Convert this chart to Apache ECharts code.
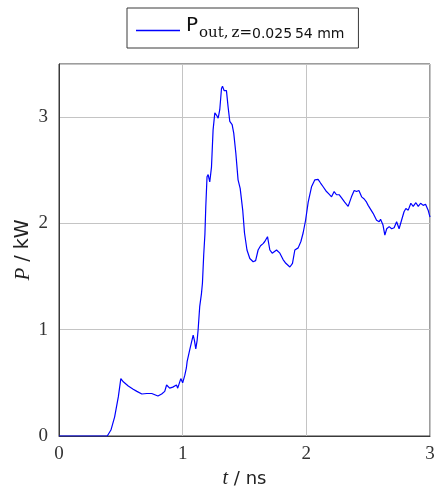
<!DOCTYPE html>
<html>
<head>
<meta charset="utf-8">
<script src="https://cdn.jsdelivr.net/npm/echarts@6/dist/echarts.min.js"></script>
<style>
  html, body { margin: 0; padding: 0; background: #fff; }
  #chart { width: 438px; height: 487px; }
</style>
</head>
<body>
<div id="chart"></div>
<script>
// Output power at z = 0.02554 mm versus time
const timeNs = [
  0.0, 0.2, 0.39, 0.42, 0.45, 0.48, 0.50, 0.52, 0.56, 0.60, 0.63, 0.64, 0.67, 0.71, 0.75,
  0.80, 0.83, 0.855, 0.87, 0.895, 0.92, 0.95, 0.96, 0.985, 1.0, 1.017, 1.03, 1.036,
  1.057, 1.085, 1.095, 1.106, 1.117, 1.125, 1.138, 1.152, 1.16, 1.17, 1.18, 1.187,
  1.197, 1.206, 1.219, 1.233, 1.246, 1.26, 1.273, 1.287, 1.30, 1.314, 1.322, 1.335,
  1.354, 1.367, 1.381, 1.40, 1.413, 1.43, 1.448, 1.465, 1.486, 1.50, 1.52, 1.543,
  1.57, 1.59, 1.61, 1.63, 1.65, 1.664, 1.686, 1.705, 1.724, 1.74, 1.759, 1.786,
  1.812, 1.834, 1.848, 1.867, 1.888, 1.907, 1.934, 1.956, 1.974, 1.994, 2.015,
  2.042, 2.069, 2.095, 2.115, 2.136, 2.163, 2.18, 2.204, 2.225, 2.244, 2.265,
  2.285, 2.31, 2.338, 2.365, 2.387, 2.406, 2.425, 2.447, 2.468, 2.487, 2.50,
  2.514, 2.54, 2.568, 2.589, 2.60, 2.62, 2.635, 2.65, 2.67, 2.69, 2.71, 2.73,
  2.75, 2.77, 2.79, 2.805, 2.824, 2.845, 2.864, 2.886, 2.905, 2.924, 2.945,
  2.964, 2.985, 3.0
];
const powerKW = [
  0.0, 0.0, 0.0, 0.056, 0.18, 0.37, 0.54, 0.51, 0.47, 0.44, 0.42, 0.43, 0.395, 0.40, 0.40,
  0.376, 0.395, 0.42, 0.48, 0.45, 0.46, 0.48, 0.45, 0.54, 0.50, 0.57, 0.64, 0.70,
  0.81, 0.95, 0.90, 0.82, 0.90, 1.0, 1.22, 1.34, 1.44, 1.70, 1.90, 2.16,
  2.44, 2.46, 2.39, 2.53, 2.88, 3.04, 3.02, 2.99, 3.07, 3.27, 3.29, 3.25,
  3.25, 3.10, 2.96, 2.93, 2.85, 2.66, 2.41, 2.33, 2.12, 1.91, 1.75, 1.67,
  1.64, 1.65, 1.75, 1.79, 1.81, 1.83, 1.875, 1.75, 1.72, 1.72, 1.75, 1.72,
  1.66, 1.625, 1.64, 1.59, 1.625, 1.75, 1.77, 1.83, 1.91, 2.03, 2.20,
  2.345, 2.41, 2.415, 2.38, 2.345, 2.30, 2.28, 2.25, 2.30, 2.27, 2.27,
  2.24, 2.20, 2.16, 2.25, 2.31, 2.30, 2.31, 2.25, 2.23, 2.20, 2.17,
  2.16, 2.095, 2.03, 2.016, 2.04, 1.985, 1.89, 1.95, 1.97, 1.95, 1.96, 2.016,
  1.95, 2.03, 2.11, 2.14, 2.125, 2.19, 2.16, 2.195, 2.16, 2.19, 2.17,
  2.18, 2.125, 2.06
];
const xTicks = [0, 1, 2, 3];
const yTicks = [0, 1, 2, 3];
const seriesName = 'Pout';

const points = timeNs.map((t, i) => [t, powerKW[i]]);

const serif = '"DejaVu Serif", "Liberation Serif", serif';
const tickSerif = '"Liberation Serif", "DejaVu Serif", serif';
const sans = '"DejaVu Sans", "Noto Sans", sans-serif';

const chart = echarts.init(document.getElementById('chart'), null, { renderer: 'canvas' });
chart.setOption({
  animation: false,
  backgroundColor: '#fff',
  grid: {
    left: 59, right: 8, top: 64, bottom: 51,
    outerBoundsMode: 'none',
    containLabel: false,
    show: true, borderColor: '#3a3a3a', borderWidth: 1
  },
  legend: {
    show: true,
    left: 127, top: 8,
    padding: [8, 14, 7, 9],
    borderColor: '#3a3a3a', borderWidth: 1,
    backgroundColor: '#fff',
    itemWidth: 44, itemHeight: 1.3, itemGap: 0,
    icon: 'rect',
    formatter: () => '{p|P}{s|out,\u2009z=}{n|0.025\u200954 mm}',
    textStyle: {
      color: '#111',
      rich: {
        p: { fontFamily: sans, fontSize: 20, color: '#111', verticalAlign: 'bottom', lineHeight: 21, padding: [0, 1, 5, 1] },
        s: { fontFamily: serif, fontSize: 15, color: '#111', verticalAlign: 'bottom', lineHeight: 16 },
        n: { fontFamily: sans, fontSize: 14, color: '#111', verticalAlign: 'bottom', lineHeight: 16 }
      }
    },
    data: [seriesName]
  },
  xAxis: {
    type: 'value', min: 0, max: 3, interval: 1,
    name: '{i|t} / ns', nameLocation: 'middle', nameGap: 33,
    nameMoveOverlap: false,
    nameTextStyle: {
      fontFamily: sans, fontSize: 18, color: '#222',
      rich: { i: { fontFamily: tickSerif, fontStyle: 'italic', fontSize: 20, color: '#222' } }
    },
    axisLine: { show: true, lineStyle: { color: '#3a3a3a', width: 1 } },
    axisTick: { show: false },
    axisLabel: {
      color: '#333', fontFamily: tickSerif, fontSize: 19, margin: 9,
      formatter: v => xTicks.includes(v) ? String(v) : ''
    },
    splitLine: { show: true, lineStyle: { color: '#c4c4c4', width: 1 } }
  },
  yAxis: {
    type: 'value', min: 0, max: 3.5, interval: 1,
    name: '{i|P} / kW', nameLocation: 'middle', nameGap: 25, nameRotate: 90,
    nameMoveOverlap: false,
    nameTextStyle: {
      fontFamily: sans, fontSize: 19, color: '#222',
      rich: { i: { fontFamily: tickSerif, fontStyle: 'italic', fontSize: 21, color: '#222' } }
    },
    axisLine: { show: true, lineStyle: { color: '#3a3a3a', width: 1 } },
    axisTick: { show: false },
    axisLabel: {
      color: '#333', fontFamily: tickSerif, fontSize: 19, margin: 11,
      showMaxLabel: false,
      formatter: v => yTicks.includes(v) ? String(v) : ''
    },
    splitLine: { show: true, lineStyle: { color: '#c4c4c4', width: 1 } }
  },
  series: [{
    name: seriesName,
    type: 'line',
    data: points,
    showSymbol: false,
    symbol: 'none',
    lineStyle: { color: '#0000ff', width: 1.2 },
    itemStyle: { color: '#0000ff' }
  }]
});
</script>
</body>
</html>
